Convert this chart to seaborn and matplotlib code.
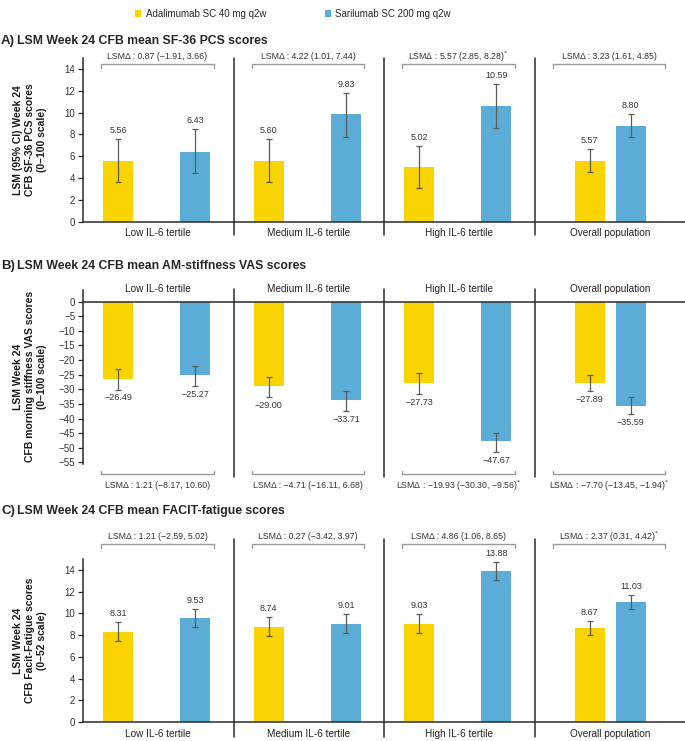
import numpy as np
import pandas as pd
import seaborn as sns
import matplotlib.pyplot as plt
from matplotlib.patches import Patch

# data
groups = ["Low IL-6 tertile", "Medium IL-6 tertile", "High IL-6 tertile", "Overall population"]
treatments = ["Adalimumab SC 40 mg q2w", "Sarilumab SC 200 mg q2w"]

# A) SF-36 PCS
pcs_ada = [5.56, 5.60, 5.02, 5.57]
pcs_ada_lo = [3.60, 3.61, 3.06, 4.59]
pcs_ada_hi = [7.56, 7.62, 6.97, 6.64]
pcs_sari = [6.43, 9.83, 10.59, 8.80]
pcs_sari_lo = [4.44, 7.80, 8.63, 7.80]
pcs_sari_hi = [8.47, 11.78, 12.60, 9.88]
pcs_delta = ["LSMΔ : 0.87 (−1.91, 3.66)", "LSMΔ : 4.22 (1.01, 7.44)",
             "LSMΔ : 5.57 (2.85, 8.28)$^{*}$", "LSMΔ : 3.23 (1.61, 4.85)"]

# B) AM-stiffness VAS
vas_ada = [-26.49, -29.00, -27.73, -27.89]
vas_ada_lo = [-30.1, -32.7, -31.5, -30.7]
vas_ada_hi = [-23.2, -25.8, -24.5, -25.1]
vas_sari = [-25.27, -33.71, -47.67, -35.59]
vas_sari_lo = [-28.9, -37.4, -51.4, -38.4]
vas_sari_hi = [-22.1, -30.5, -44.8, -32.8]
vas_delta = ["LSMΔ : 1.21 (−8.17, 10.60)", "LSMΔ : −4.71 (−16.11, 6.68)",
             "LSMΔ : −19.93 (−30.30, −9.56)$^{*}$", "LSMΔ : −7.70 (−13.45, −1.94)$^{*}$"]

# C) FACIT-fatigue
fat_ada = [8.31, 8.74, 9.03, 8.67]
fat_ada_lo = [7.49, 7.95, 8.22, 7.98]
fat_ada_hi = [9.18, 9.64, 9.92, 9.33]
fat_sari = [9.53, 9.01, 13.88, 11.03]
fat_sari_lo = [8.72, 8.22, 13.05, 10.38]
fat_sari_hi = [10.43, 9.92, 14.76, 11.67]
fat_delta = ["LSMΔ : 1.21 (−2.59, 5.02)", "LSMΔ : 0.27 (−3.42, 3.97)",
             "LSMΔ : 4.86 (1.06, 8.65)", "LSMΔ : 2.37 (0.31, 4.42)$^{*}$"]

YELLOW = "#FAD400"
BLUE = "#5BADD8"
DARK = "#2b2b2b"
GREY = "#5a5a5a"

sns.set_style("white")
plt.rcParams["font.family"] = ["Liberation Sans", "DejaVu Sans"]
plt.rcParams["axes.unicode_minus"] = True


def positions():
    # bar centres inside each group (group i spans i..i+1)
    ada, sari = [], []
    for i in range(4):
        if i < 3:
            ada.append(i + 0.233); sari.append(i + 0.747)
        else:
            ada.append(i + 0.367); sari.append(i + 0.64)
    return ada, sari


def panel(ax, ada, ada_lo, ada_hi, sari, sari_lo, sari_hi, deltas, cfg):
    pa, ps = positions()
    df = pd.DataFrame({
        "pos": pa + ps,
        "value": ada + sari,
        "treatment": [treatments[0]] * 4 + [treatments[1]] * 4,
    })
    sns.barplot(data=df, x="pos", y="value", hue="treatment", native_scale=True,
                palette=[YELLOW, BLUE], errorbar=None, legend=False, saturation=1,
                linewidth=0, ax=ax)
    for p in ax.patches:
        c = p.get_x() + p.get_width() / 2
        p.set_width(0.2)
        p.set_x(c - 0.1)

    for pos, v, lo, hi in [(pa, ada, ada_lo, ada_hi), (ps, sari, sari_lo, sari_hi)]:
        v = np.array(v); lo = np.array(lo); hi = np.array(hi)
        ax.errorbar(pos, v, yerr=[v - lo, hi - v], fmt="none", ecolor=GREY,
                    elinewidth=0.9, capsize=2.2, capthick=0.9, zorder=3)
        for x, val, l, h in zip(pos, v, lo, hi):
            if cfg["neg"]:
                ax.annotate(f"{val:.2f}".replace("-", "−"), (x, l), xytext=(0, -6),
                            textcoords="offset points", ha="center", va="center",
                            fontsize=6.5, color="#333333")
            else:
                ax.annotate(f"{val:.2f}", (x, h), xytext=(0, 6),
                            textcoords="offset points", ha="center", va="center",
                            fontsize=6.5, color="#333333")

    ax.set_xlim(0, 4)
    ax.set_ylim(*cfg["ylim"])
    ax.set_xticks([])
    ax.set_yticks(cfg["yticks"])
    ax.set_xlabel("")
    ax.set_ylabel("")
    ax.tick_params(axis="y", direction="out", length=3.5, width=0.9, color=DARK,
                   labelsize=7, pad=2, left=True, labelcolor="#333333")
    for s in ["top", "right"]:
        ax.spines[s].set_visible(False)
    ax.spines["left"].set_color(DARK)
    ax.spines["left"].set_linewidth(1.1)
    if cfg["neg"]:
        ax.spines["bottom"].set_visible(False)
        ax.axhline(0, color=DARK, lw=1.1, clip_on=False)
    else:
        ax.spines["bottom"].set_color(DARK)
        ax.spines["bottom"].set_linewidth(1.1)

    # group separators and labels
    for i in range(1, 4):
        ax.plot([i, i], cfg["sep"], color=DARK, lw=1.1, clip_on=False)
    for i, g in enumerate(groups):
        ax.text(i + 0.5, cfg["label_y"], g, ha="center", va="center", fontsize=7.2,
                color="#222222", clip_on=False)

    # LSM difference brackets
    by, ty, txt_y = cfg["bracket"]
    for i, d in enumerate(deltas):
        x0, x1 = i + 0.12, i + 0.87
        ax.plot([x0, x0, x1, x1], [ty, by, by, ty], color="#9a9a9a", lw=1.0,
                clip_on=False)
        ax.text(i + 0.495, txt_y, d, ha="center", va="center", fontsize=6.3,
                color="#333333", clip_on=False)


fig = plt.figure(figsize=(6.85, 7.41), dpi=100)
W, H = 685, 741


def add_axes(top, bottom, left=83, right=685):
    return fig.add_axes([left / W, 1 - bottom / H, (right - left) / W, (bottom - top) / H])


axA = add_axes(58, 221.7)
panel(axA, pcs_ada, pcs_ada_lo, pcs_ada_hi, pcs_sari, pcs_sari_lo, pcs_sari_hi, pcs_delta,
      dict(neg=False, ylim=(0, 15), yticks=range(0, 15, 2), sep=(-1.25, 15.0),
           label_y=-1.05, bracket=(14.47, 14.07, 15.15)))

axB = add_axes(290, 463.5)
panel(axB, vas_ada, vas_ada_lo, vas_ada_hi, vas_sari, vas_sari_lo, vas_sari_hi, vas_delta,
      dict(neg=True, ylim=(-55.4, 4.0), yticks=range(0, -56, -5), sep=(-60.0, 4.4),
           label_y=4.2, bracket=(-59.0, -57.9, -63.0)))

axC = add_axes(559, 722)
panel(axC, fat_ada, fat_ada_lo, fat_ada_hi, fat_sari, fat_sari_lo, fat_sari_hi, fat_delta,
      dict(neg=False, ylim=(0, 15), yticks=range(0, 15, 2), sep=(-1.4, 16.85),
           label_y=-1.1, bracket=(16.39, 16.0, 17.06)))

# y-axis titles
ylabels = [
    (axA, "LSM (95% CI) Week 24\nCFB SF-36 PCS scores\n(0–100 scale)"),
    (axB, "LSM Week 24\nCFB morning stiffness VAS scores\n(0–100 scale)"),
    (axC, "LSM Week 24\nCFB Facit-Fatigue scores\n(0–52 scale)"),
]
for ax, t in ylabels:
    b = ax.get_position()
    fig.text(30 / W, b.y0 + b.height / 2, t, rotation=90, ha="center", va="center",
             fontsize=7.5, fontweight="bold", linespacing=1.25, multialignment="center",
             color="#1a1a1a")

# panel titles
titles = [
    (41, "A)", "LSM Week 24 CFB mean SF-36 PCS scores"),
    (266, "B)", "LSM Week 24 CFB mean AM-stiffness VAS scores"),
    (511, "C)", "LSM Week 24 CFB mean FACIT-fatigue scores"),
]
for y, lab, t in titles:
    fig.text(1 / W, 1 - y / H, lab, ha="left", va="center", fontsize=9.5,
             fontweight="bold")
    fig.text(17 / W, 1 - y / H, t, ha="left", va="center", fontsize=8.8,
             fontweight="bold")

# legend
handles = [Patch(facecolor=YELLOW, edgecolor="none"), Patch(facecolor=BLUE, edgecolor="none")]
fig.legend(handles, treatments, loc="center", bbox_to_anchor=(0.428, 1 - 14 / H), ncol=2,
           frameon=False, fontsize=7, handlelength=0.6, handleheight=0.6,
           handletextpad=0.5, columnspacing=6.0)

fig.savefig("out.png", dpi=100)
